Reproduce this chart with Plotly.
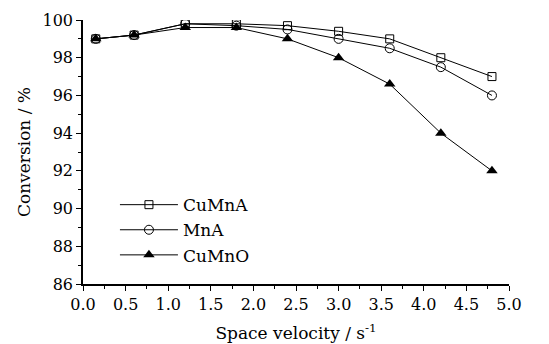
import plotly.graph_objects as go

x_vals = [0.15, 0.6, 1.2, 1.8, 2.4, 3.0, 3.6, 4.2, 4.8]
cumna = [99.0, 99.2, 99.8, 99.8, 99.7, 99.4, 99.0, 98.0, 97.0]
mna = [99.0, 99.2, 99.8, 99.7, 99.5, 99.0, 98.5, 97.5, 96.0]
cumno = [99.0, 99.2, 99.6, 99.6, 99.0, 98.0, 96.6, 94.0, 92.0]
names = ["CuMnA", "MnA", "CuMnO"]

font = "DejaVu Serif"
fig = go.Figure()
fig.add_trace(go.Scatter(x=x_vals, y=cumna, name=names[0], mode="lines+markers",
                         line=dict(color="black", width=1),
                         marker=dict(symbol="square-open", size=8, color="black", line=dict(width=1))))
fig.add_trace(go.Scatter(x=x_vals, y=mna, name=names[1], mode="lines+markers",
                         line=dict(color="black", width=1),
                         marker=dict(symbol="circle-open", size=9, color="black", line=dict(width=1))))
fig.add_trace(go.Scatter(x=x_vals, y=cumno, name=names[2], mode="lines+markers",
                         line=dict(color="black", width=1),
                         marker=dict(symbol="triangle-up", size=10, color="black")))

fig.update_layout(
    width=549, height=344,
    margin=dict(l=83, r=40, t=20, b=60, autoexpand=False),
    paper_bgcolor="white", plot_bgcolor="white",
    font=dict(family=font, color="black", size=16),
    showlegend=True,
    legend=dict(x=0.075, y=0.367, xanchor="left", yanchor="top",
                bgcolor="rgba(0,0,0,0)", font=dict(size=17, family=font, color="black"),
                tracegroupgap=0, itemwidth=58),
)
fig.update_xaxes(range=[0, 5], dtick=0.5, tickformat=".1f", showgrid=False, zeroline=False,
                 showline=True, linecolor="black", linewidth=1.5,
                 ticks="outside", ticklen=5, tickwidth=1, tickcolor="black",
                 tickfont=dict(family=font, size=16, color="black"), automargin=False,
                 minor=dict(dtick=0.25, ticks="outside", ticklen=3, tickcolor="black"),
                 title=dict(text="Space velocity / s<sup>-1</sup>", font=dict(family=font, size=17, color="black"), standoff=14))
fig.update_yaxes(range=[86, 100], dtick=2, showgrid=False, zeroline=False,
                 showline=True, linecolor="black", linewidth=1.5,
                 ticks="outside", ticklen=5, tickwidth=1, tickcolor="black",
                 tickfont=dict(family=font, size=16, color="black"), automargin=False,
                 minor=dict(dtick=1, ticks="outside", ticklen=3, tickcolor="black"),
                 title=dict(text="Conversion / %", font=dict(family=font, size=17, color="black"), standoff=8))

fig.write_html("out.html")
